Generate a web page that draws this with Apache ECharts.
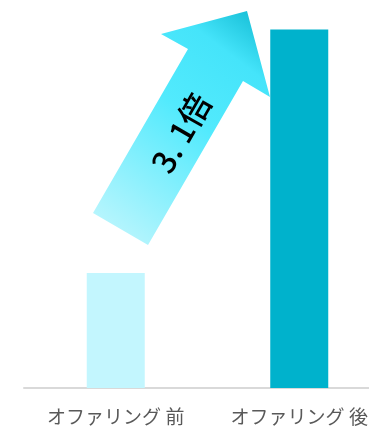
<!DOCTYPE html>
<html>
<head>
<meta charset="utf-8">
<script src="https://cdn.jsdelivr.net/npm/echarts@6/dist/echarts.min.js"></script>
<style>
  html, body { margin: 0; padding: 0; background: #fff; overflow: hidden; }
  /* 軸線が右端からはみ出すため、描画領域を窓より広くとる */
  #chart { width: 391px; height: 439px; }
</style>
</head>
<body>
<div id="chart"></div>
<script>
// カテゴリと値（前を1とした倍率）
const categories = ["オファリング 前", "オファリング 後"];
const values = [1.0, 3.12];
const barColors = ["#c3f6fe", "#00b2cc"];
const ratioLabel = "3. 1倍";

var myChart = echarts.init(document.getElementById("chart"));

var option = {
  animation: false,
  grid: {
    left: 24,
    right: 0,
    top: 11,
    bottom: 51
  },
  xAxis: {
    type: "category",
    data: categories,
    axisTick: { show: false },
    axisLine: { lineStyle: { color: "#d9d9d9", width: 2 } },
    axisLabel: {
      interval: 0,
      color: "#595959",
      fontSize: 19,
      fontFamily: "Noto Sans CJK JP",
      margin: 19
    }
  },
  yAxis: {
    type: "value",
    min: 0,
    max: 3.28,
    show: false,
    splitLine: { show: false }
  },
  series: [
    {
      type: "bar",
      barWidth: 58,
      data: values.map((v, i) => ({ value: v, itemStyle: { color: barColors[i] } }))
    }
  ],
  // 倍率を示す矢印（装飾）
  graphic: [
    {
      type: "polygon",
      shape: {
        points: [
          [93, 213],
          [188, 49],
          [161, 34],
          [247, 11],
          [270, 97],
          [243, 81],
          [148, 245]
        ]
      },
      style: {
        fill: new echarts.graphic.LinearGradient(0, 1, 1, 0, [
          { offset: 0, color: "#c8f7fd" },
          { offset: 0.55, color: "#52eafd" },
          { offset: 0.8, color: "#45e4fa" },
          { offset: 1, color: "#0db7cf" }
        ])
      }
    },
    {
      type: "text",
      x: 181,
      y: 133,
      rotation: Math.PI / 3,
      style: {
        text: ratioLabel,
        fill: "#000",
        fontSize: 32,
        fontWeight: 500,
        fontFamily: "Noto Sans CJK JP",
        align: "center",
        verticalAlign: "middle"
      }
    }
  ]
};

myChart.setOption(option);
</script>
</body>
</html>
